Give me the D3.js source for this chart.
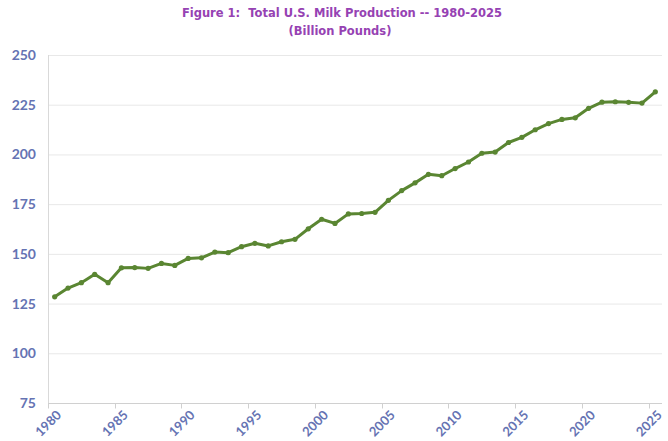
<!DOCTYPE html>
<html>
<head>
<meta charset="utf-8">
<script src="https://cdn.jsdelivr.net/npm/d3@7"></script>
<style>
  body { margin: 0; background: #fff; }
  svg { display: block; }
</style>
</head>
<body>
<svg width="668" height="441"></svg>
<script>
// years and production (billion pounds)
var years = d3.range(1980, 2026);
var production = [128.4, 132.8, 135.5, 139.7, 135.5, 143.0, 143.1, 142.7, 145.2, 144.2,
                  147.7, 148.0, 150.9, 150.6, 153.6, 155.3, 154.0, 156.1, 157.3, 162.6,
                  167.4, 165.3, 170.1, 170.3, 170.9, 176.9, 181.8, 185.7, 190.0, 189.3,
                  192.9, 196.2, 200.6, 201.2, 206.0, 208.6, 212.4, 215.5, 217.6, 218.4,
                  223.2, 226.3, 226.5, 226.2, 225.8, 231.5];
var yTicks = [75, 100, 125, 150, 175, 200, 225, 250];
var xLabels = [1980, 1985, 1990, 1995, 2000, 2005, 2010, 2015, 2020, 2025];

var svg = d3.select("svg"),
    margin = {top: 55, right: 6, bottom: 38, left: 48},
    w = +svg.attr("width") - margin.left - margin.right,
    h = +svg.attr("height") - margin.top - margin.bottom;

var data = years.map(function(y, i) { return {year: y, value: production[i]}; });

var xScale = d3.scaleBand().domain(years).range([0, w]).padding(0),
    yScale = d3.scaleLinear().domain([75, 250]).range([h, 0]);

var g = svg.append("g")
    .attr("transform", "translate(" + margin.left + "," + margin.top + ")");

// title
svg.append("text")
    .attr("x", 342).attr("y", 17)
    .attr("text-anchor", "middle")
    .attr("font-family", "'Comic Sans MS', 'DejaVu Sans', sans-serif")
    .attr("font-weight", "bold")
    .attr("font-size", "11.5px")
    .attr("fill", "#9642b3")
    .attr("xml:space", "preserve")
    .text("Figure 1:  Total U.S. Milk Production -- 1980-2025");
svg.append("text")
    .attr("x", 340).attr("y", 35)
    .attr("text-anchor", "middle")
    .attr("font-family", "'Comic Sans MS', 'DejaVu Sans', sans-serif")
    .attr("font-weight", "bold")
    .attr("font-size", "11.5px")
    .attr("fill", "#9642b3")
    .text("(Billion Pounds)");

// gridlines
g.append("g")
    .selectAll("line")
    .data(yTicks.slice(1))
    .enter().append("line")
      .attr("x1", 0).attr("x2", w)
      .attr("y1", function(d) { return yScale(d) + 0.5; })
      .attr("y2", function(d) { return yScale(d) + 0.5; })
      .attr("stroke", "#e8e8e8");

// y axis labels
var yAxis = g.append("g")
    .call(d3.axisLeft(yScale).tickValues(yTicks).tickSize(0).tickPadding(12));
yAxis.select(".domain").remove();
yAxis.selectAll("text")
    .attr("font-family", "Lato, 'Open Sans', sans-serif")
    .attr("font-weight", "bold")
    .attr("font-size", "14px")
    .attr("fill", "#6573b3");

// left axis line
g.append("line")
    .attr("x1", 0.5).attr("x2", 0.5)
    .attr("y1", 0).attr("y2", h)
    .attr("stroke", "#d9d9d9");

// x axis
var xAxis = g.append("g")
    .attr("transform", "translate(0," + (h + 0.5) + ")");
xAxis.append("line")
    .attr("x1", 0).attr("x2", w)
    .attr("stroke", "#d0d0d0");
xAxis.selectAll(".tickmark")
    .data(xLabels)
    .enter().append("line")
      .attr("class", "tickmark")
      .attr("x1", function(d) { return Math.round(xScale(d)) + 0.5; })
      .attr("x2", function(d) { return Math.round(xScale(d)) + 0.5; })
      .attr("y1", 0).attr("y2", 5)
      .attr("stroke", "#d0d0d0");
xAxis.selectAll(".ticklabel")
    .data(xLabels)
    .enter().append("text")
      .attr("class", "ticklabel")
      .attr("transform", function(d) {
        return "translate(" + (xScale(d) + xScale.bandwidth() / 2 + 1) + ",6) rotate(-45)";
      })
      .attr("text-anchor", "end")
      .attr("dy", "0.7em")
      .attr("font-family", "Lato, 'Open Sans', sans-serif")
      .attr("font-weight", "bold")
      .attr("font-size", "13px")
      .attr("fill", "#6573b3")
      .text(function(d) { return d; });

// line
var line = d3.line()
    .x(function(d) { return xScale(d.year) + xScale.bandwidth() / 2; })
    .y(function(d) { return yScale(d.value); });

g.append("path")
    .datum(data)
    .attr("fill", "none")
    .attr("stroke", "#5a8632")
    .attr("stroke-width", 3)
    .attr("stroke-linejoin", "round")
    .attr("d", line);

g.selectAll(".dot")
    .data(data)
    .enter().append("circle")
      .attr("class", "dot")
      .attr("cx", function(d) { return xScale(d.year) + xScale.bandwidth() / 2; })
      .attr("cy", function(d) { return yScale(d.value); })
      .attr("r", 2.6)
      .attr("fill", "#5a8632");
</script>
</body>
</html>
